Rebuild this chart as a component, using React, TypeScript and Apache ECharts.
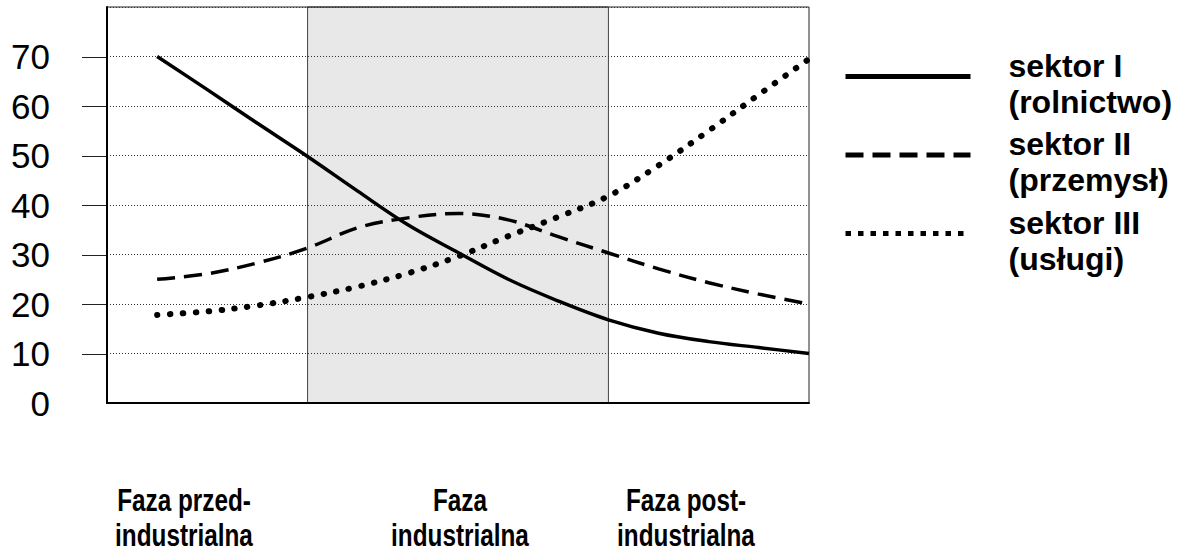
import React, { useEffect, useRef } from 'react';
import * as echarts from 'echarts';

// ---- data ----
const xPositions = [0.5, 1, 1.5, 2, 2.5, 3, 3.5, 4, 4.5, 5, 5.5, 6, 6.5, 7];
const sector1 = [70, 63.3, 56.5, 49.8, 42.8, 36, 30.4, 25, 20.6, 16.8, 14.1, 12.4, 11.2, 10];
const sector2 = [25, 26.1, 28.3, 31.3, 35.4, 37.4, 38.3, 37.0, 33.6, 30.3, 27.1, 24.3, 22, 20];
const sector3 = [17.8, 18.5, 19.7, 21.4, 23.5, 26.2, 29.6, 33.7, 37.6, 41.8, 48, 55, 62.3, 69.5];
const seriesNames = ['sektor I (rolnictwo)', 'sektor II (przemysł)', 'sektor III (usługi)'];
const phaseBounds = [2, 5];
const phaseLabels = ['Faza przed-\nindustrialna', 'Faza\nindustrialna', 'Faza post-\nindustrialna'];
const yLabelValues = [0, 10, 20, 30, 40, 50, 60, 70];
const yTickValues = [10, 20, 30, 40, 50, 60, 70];

const FONT = "'Liberation Sans', Arial, Helvetica, sans-serif";

export default function App() {
  const ref = useRef<HTMLDivElement>(null);
  useEffect(() => {
    document.body.style.margin = '0';
    const chart = echarts.init(ref.current!, null, { renderer: 'svg' });
    const pts = (ys: number[]) => xPositions.map((x, i) => [x, ys[i]]);
    const phaseX = [184, 460, 686];
    const phaseGraphics = phaseLabels.map((t, i) => ({
      id: 'phase' + i,
      type: 'text', x: phaseX[i], y: 482, scaleX: 0.76,
      style: {
        text: t, fontSize: 32, fontWeight: 'bold', fontFamily: FONT, fill: '#000',
        align: 'center', verticalAlign: 'top', lineHeight: 35,
      },
    }));
    const option: any = {
      animation: false,
      backgroundColor: '#ffffff',
      grid: {
        left: 107, top: 7, width: 702, height: 396,
        show: true, borderColor: '#222', borderWidth: 1, backgroundColor: 'transparent',
      },
      xAxis: {
        type: 'value', min: 0, max: 7,
        axisLine: { show: true, onZero: false, lineStyle: { color: '#000', width: 2 } },
        axisTick: { show: false }, axisLabel: { show: false }, splitLine: { show: false },
      },
      yAxis: {
        type: 'value', min: 0, max: 80, interval: 10,
        axisLine: { show: true, onZero: false, lineStyle: { color: '#000', width: 2 } },
        axisTick: { show: false },
        axisLabel: {
          show: true,
          customValues: yLabelValues,
          margin: 57,
          color: '#000', fontSize: 35, fontFamily: FONT,
        },
        splitLine: { show: true, lineStyle: { type: [1, 2], color: '#333', width: 1 } },
      },
      legend: {
        orient: 'vertical', left: 843, top: 40, padding: 0,
        itemWidth: 125, itemHeight: 14, itemGap: 1,
        selectedMode: false,
        formatter: (name: string) => {
          const [a, b] = name.replace(' (', '\n(').split('\n');
          return `{s| }\n{a|${a}}\n{a|${b}}`;
        },
        textStyle: {
          fontSize: 32, fontWeight: 'bold', fontFamily: FONT, color: '#000',
          padding: [0, 0, 0, 33],
          rich: {
            s: { fontSize: 1, lineHeight: 14 },
            a: { fontSize: 32, fontWeight: 'bold', fontFamily: FONT, color: '#000', lineHeight: 36 },
          },
        },
        data: [
          { name: seriesNames[0], lineStyle: { width: 5, type: 'solid' }, itemStyle: { opacity: 0 } },
          { name: seriesNames[1], lineStyle: { width: 5, type: [18, 9], cap: 'butt' }, itemStyle: { opacity: 0 } },
          { name: seriesNames[2], lineStyle: { width: 5, type: [5.5, 7], cap: 'butt' }, itemStyle: { opacity: 0 } },
        ],
      },
      series: [
        {
          name: seriesNames[0], type: 'line', data: pts(sector1), smooth: 0.35, symbol: 'none',
          lineStyle: { color: '#000', width: 3.5, type: 'solid' },
          markArea: {
            silent: true, z: -1,
            itemStyle: { color: '#e8e8e8', borderColor: '#444', borderWidth: 1 },
            label: { show: false },
            data: [[{ xAxis: phaseBounds[0] }, { xAxis: phaseBounds[1] }]],
          },
        },
        {
          name: seriesNames[1], type: 'line', data: pts(sector2), smooth: 0.35, symbol: 'none',
          lineStyle: { color: '#000', width: 3.5, type: [18, 9], cap: 'butt' },
        },
        {
          name: seriesNames[2], type: 'line', data: pts(sector3), smooth: 0.35, symbol: 'none',
          lineStyle: { color: '#000', width: 6, type: [0.5, 12.4], cap: 'round' },
        },
      ],
      graphic: phaseGraphics,
    };
    chart.setOption(option);
    // y-axis tick marks (10..70 only), positioned through the axis scales
    const x0 = chart.convertToPixel({ xAxisIndex: 0 }, 0) as number;
    const ticks = yTickValues.map((v, i) => {
      const y = Math.round(chart.convertToPixel({ yAxisIndex: 0 }, v) as number) + 0.5;
      return {
        id: 'tick' + i, type: 'line', silent: true,
        shape: { x1: x0 - 25, y1: y, x2: x0, y2: y },
        style: { stroke: '#222', lineWidth: 1 },
      };
    });
    chart.setOption({ graphic: [...phaseGraphics, ...ticks] });
    return () => chart.dispose();
  }, []);
  return <div ref={ref} style={{ width: 1180, height: 553 }} />;
}
